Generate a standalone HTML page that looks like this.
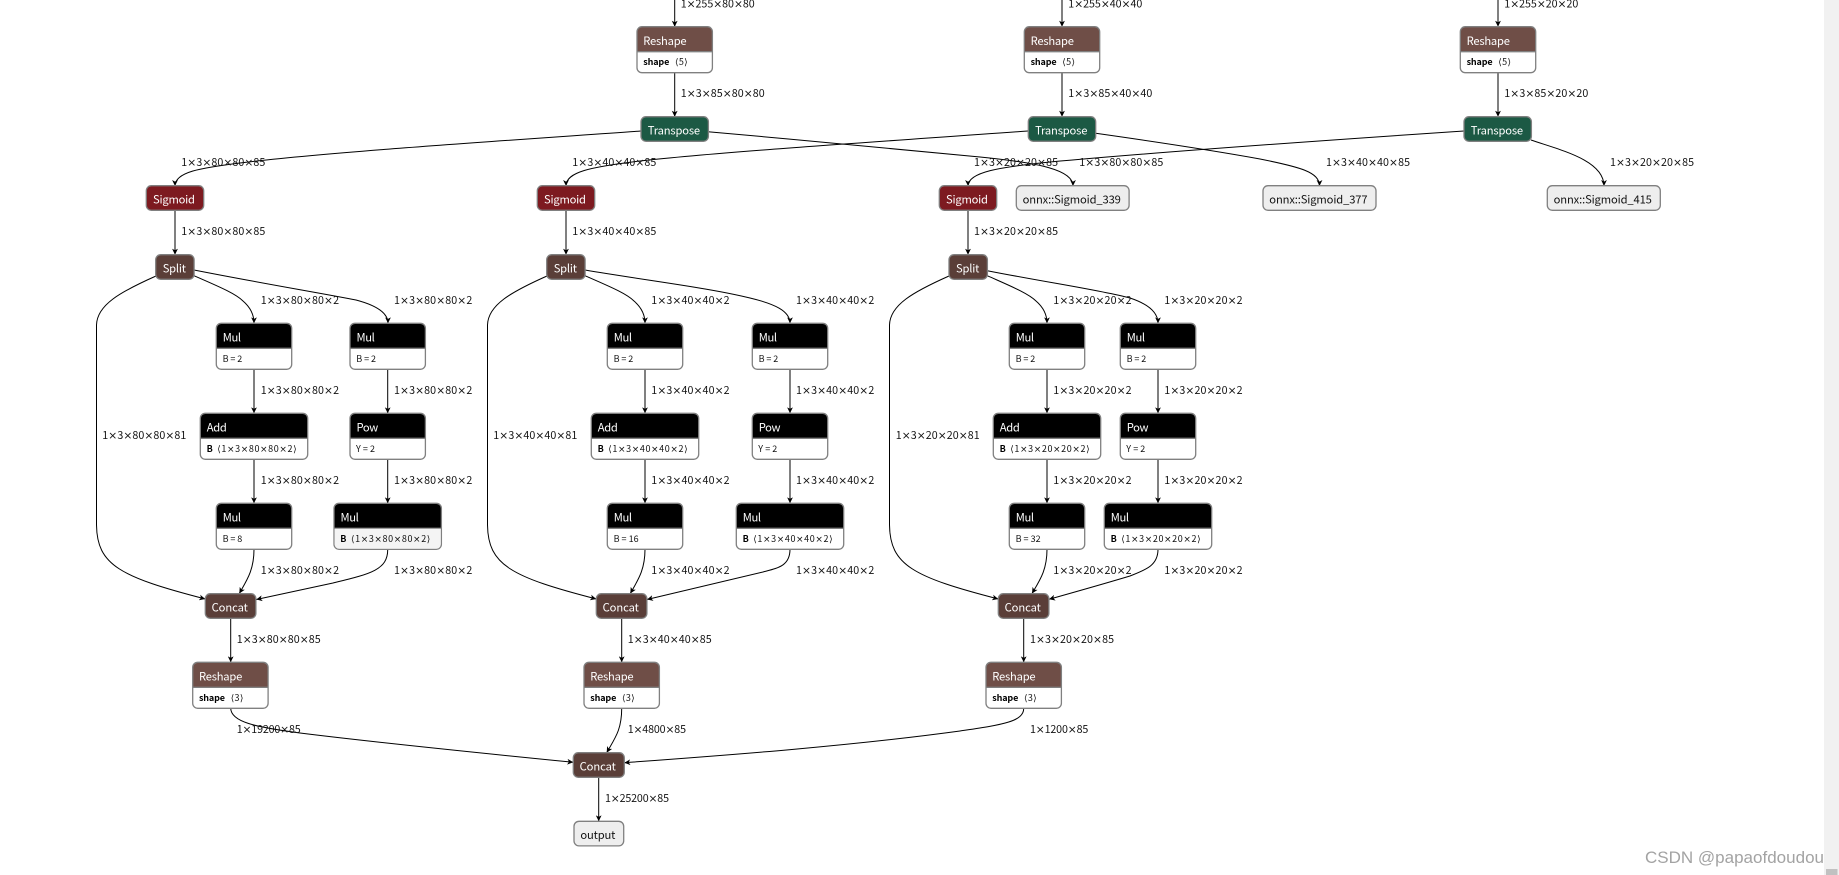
<!DOCTYPE html>
<html><head><meta charset="utf-8"><style>
html,body{margin:0;padding:0;background:#fff;overflow:hidden;width:1839px;height:875px}
svg{display:block;position:absolute;left:0;top:0}
text{font-family:"Noto Sans CJK SC","Liberation Sans",sans-serif;fill:#111}
tspan{font-family:"DejaVu Sans",sans-serif}
.l{font-size:10.7px}
.h{font-size:11.2px;fill:#fff;transform:translateY(.6px)}
.a{font-size:9px}
.b{font-size:9px;font-weight:700;fill:#000}
.n{font-size:11.2px}
.e{fill:none;stroke:#000;stroke-width:1;marker-end:url(#ar)}
.bx{stroke:#808080;stroke-width:1.3}
</style></head><body>
<svg width="1839" height="875" viewBox="0 0 1839 875" xmlns="http://www.w3.org/2000/svg">
<defs>
<marker id="ar" markerUnits="userSpaceOnUse" markerWidth="7" markerHeight="7" refX="6" refY="3.5" orient="auto"><path d="M0 .6L6 3.5L0 6.4L1.6 3.5z" fill="#000"/></marker>
<g id="nm"><rect width="75.4" height="46" rx="5" fill="#fff"/><path d="M0 25V5a5 5 0 0 1 5-5h65.4a5 5 0 0 1 5 5V25z" fill="#000"/><rect width="75.4" height="46" rx="5" fill="none" class="bx"/><path d="M0 25H75.4" class="bx"/></g>
<g id="nw"><rect width="107.4" height="46" rx="5" fill="#fff"/><path d="M0 25V5a5 5 0 0 1 5-5h97.4a5 5 0 0 1 5 5V25z" fill="#000"/><rect width="107.4" height="46" rx="5" fill="none" class="bx"/><path d="M0 25H107.4" class="bx"/></g>
<g id="nr"><rect width="75.4" height="46" rx="5" fill="#fff"/><path d="M0 25V5a5 5 0 0 1 5-5h65.4a5 5 0 0 1 5 5V25z" fill="#6f4e47"/><rect width="75.4" height="46" rx="5" fill="none" class="bx"/><path d="M0 25H75.4" class="bx"/></g>
</defs>

<!-- edges -->
<path class="e" d="M674.7 0V26.7"/><path class="e" d="M674.7 72.3V116.7"/>
<path class="e" d="M1062 0V26.7"/><path class="e" d="M1062 72.3V116.7"/>
<path class="e" d="M1498 0V26.7"/><path class="e" d="M1498 72.3V116.7"/>
<path class="e" d="M641 131C500 141 330 152 240 163C200 168 175 172 175 186"/>
<path class="e" d="M1028 131C860 143 720 152 640 161C590 167 566 172 566 186"/>
<path class="e" d="M1464 131C1300 142 1160 152 1050 162C1000 167 968 172 968 186"/>
<path class="e" d="M708 131.7C800 140 900 149 980 157C1040 163 1073 170 1073 186"/>
<path class="e" d="M1095.7 133.3C1150 141 1210 150 1260 159C1300 167 1319.5 172 1319.5 186"/>
<path class="e" d="M1531 140C1560 150 1604 160 1604 186"/>
<path class="e" d="M175 210.3V254.7"/><path class="e" d="M566 210.3V254.7"/><path class="e" d="M968 210.3V254.7"/>

<path class="e" d="M194 270C260 283 320 293 356 300C375 305 388 312 388 323.3"/>
<path class="e" d="M194 275.7C215 285 235 293 243 301C250 307 254 314 254 323.3"/>
<path class="e" d="M156 276C120 292 97 305 96.5 325L96.5 525C97 565 120 577 205.3 599"/>
<path class="e" d="M585 270C650 281 710 288 750 298C775 304 790 311 790 323.3"/>
<path class="e" d="M585 275.7C606 285 626 293 634 301C641 307 645 314 645 323.3"/>
<path class="e" d="M547 276C511 292 488 305 487.5 325L487.5 525C488 565 511 577 596.3 599"/>
<path class="e" d="M987.3 270.7C1050 283 1100 290 1130 298C1148 304 1158 312 1158 323.3"/>
<path class="e" d="M987.3 275.7C1008 285 1028 293 1036 301C1043 307 1047 314 1047 323.3"/>
<path class="e" d="M949 276C913 292 890 305 889.5 325L889.5 525C890 565 913 577 998.3 599"/>

<path class="e" d="M254 369.3V413.3"/><path class="e" d="M254 459.3V503.3"/>
<path class="e" d="M387.7 369.3V413.3"/><path class="e" d="M387.7 459.3V503.3"/>
<path class="e" d="M645 369.3V413.3"/><path class="e" d="M645 459.3V503.3"/>
<path class="e" d="M790 369.3V413.3"/><path class="e" d="M790 459.3V503.3"/>
<path class="e" d="M1047 369.3V413.3"/><path class="e" d="M1047 459.3V503.3"/>
<path class="e" d="M1158 369.3V413.3"/><path class="e" d="M1158 459.3V503.3"/>

<path class="e" d="M254 549.3C254 570 247 580 239.3 593.5"/>
<path class="e" d="M645 549.3C645 570 638 580 630.3 593.5"/>
<path class="e" d="M1047 549.3C1047 570 1040 580 1032 593.5"/>
<path class="e" d="M387.7 549.3C388 570 370 574 333 583L256.3 599.5"/>
<path class="e" d="M790 549.3C790 566 778 568 763 572L647 599.5"/>
<path class="e" d="M1158 549.3C1158 566 1145 570 1130 576C1100 585 1075 592 1049 599.3"/>

<path class="e" d="M230.7 618V662.3"/><path class="e" d="M621.7 618V662.3"/><path class="e" d="M1023.7 618V662.3"/>
<path class="e" d="M230.7 708.3C231 722 255 727 300 733C380 743 480 753 573.3 762.3"/>
<path class="e" d="M621.7 708.3C621.7 730 615 738 606.7 752.7"/>
<path class="e" d="M1023.7 708.3C1024 722 1000 725 960 731C850 746 730 755 624.3 762.7"/>
<path class="e" d="M598.7 777.3V821.3"/>

<!-- top nodes -->
<g transform="translate(637 26.7)"><use href="#nr"/><text class="h" x="6.3" y="17.5" textLength="43.3">Reshape</text><text class="b" x="6.3" y="38.5" textLength="26">shape</text><text class="a" x="38" y="38.5" textLength="12.7">⟨5⟩</text></g>
<g transform="translate(1024.3 26.7)"><use href="#nr"/><text class="h" x="6.3" y="17.5" textLength="43.3">Reshape</text><text class="b" x="6.3" y="38.5" textLength="26">shape</text><text class="a" x="38" y="38.5" textLength="12.7">⟨5⟩</text></g>
<g transform="translate(1460.3 26.7)"><use href="#nr"/><text class="h" x="6.3" y="17.5" textLength="43.3">Reshape</text><text class="b" x="6.3" y="38.5" textLength="26">shape</text><text class="a" x="38" y="38.5" textLength="12.7">⟨5⟩</text></g>

<g transform="translate(641 116.7)"><rect width="67.4" height="24.6" rx="5" fill="#1c5944" class="bx"/><text class="h" x="6.8" y="17.3" textLength="52.3">Transpose</text></g>
<g transform="translate(1028.3 116.7)"><rect width="67.4" height="24.6" rx="5" fill="#1c5944" class="bx"/><text class="h" x="6.8" y="17.3" textLength="52.3">Transpose</text></g>
<g transform="translate(1464 116.7)"><rect width="67.4" height="24.6" rx="5" fill="#1c5944" class="bx"/><text class="h" x="6.8" y="17.3" textLength="52.3">Transpose</text></g>

<g transform="translate(146.3 185.7)"><rect width="57.4" height="24.6" rx="5" fill="#7d1a20" class="bx"/><text class="h" x="6.7" y="17.3" textLength="42">Sigmoid</text></g>
<g transform="translate(537.3 185.7)"><rect width="57.4" height="24.6" rx="5" fill="#7d1a20" class="bx"/><text class="h" x="6.7" y="17.3" textLength="42">Sigmoid</text></g>
<g transform="translate(939.3 185.7)"><rect width="57.4" height="24.6" rx="5" fill="#7d1a20" class="bx"/><text class="h" x="6.7" y="17.3" textLength="42">Sigmoid</text></g>

<g transform="translate(1016.3 185.7)"><rect width="112.8" height="24.6" rx="5" fill="#eee" class="bx"/><text class="n" x="6.3" y="17.9" textLength="98.3">onnx::Sigmoid_339</text></g>
<g transform="translate(1263 185.7)"><rect width="113" height="24.6" rx="5" fill="#eee" class="bx"/><text class="n" x="6.3" y="17.9" textLength="98.3">onnx::Sigmoid_377</text></g>
<g transform="translate(1547.3 185.7)"><rect width="113" height="24.6" rx="5" fill="#eee" class="bx"/><text class="n" x="6.3" y="17.9" textLength="98.3">onnx::Sigmoid_415</text></g>

<g transform="translate(155.7 254.7)"><rect width="38.4" height="24.6" rx="5" fill="#5a3e38" class="bx"/><text class="h" x="7" y="17.3" textLength="23.3">Split</text></g>
<g transform="translate(546.7 254.7)"><rect width="38.4" height="24.6" rx="5" fill="#5a3e38" class="bx"/><text class="h" x="7" y="17.3" textLength="23.3">Split</text></g>
<g transform="translate(949 254.7)"><rect width="38.4" height="24.6" rx="5" fill="#5a3e38" class="bx"/><text class="h" x="7" y="17.3" textLength="23.3">Split</text></g>

<!-- column 1 nodes -->
<g transform="translate(216.3 323.3)"><use href="#nm"/><text class="h" x="6.5" y="17.5" textLength="18.3">Mul</text><text class="a" x="6.3" y="38.8" textLength="19.7">B = 2</text></g>
<g transform="translate(350 323.3)"><use href="#nm"/><text class="h" x="6.5" y="17.5" textLength="18.3">Mul</text><text class="a" x="6.3" y="38.8" textLength="19.7">B = 2</text></g>
<g transform="translate(200.3 413.3)"><use href="#nw"/><text class="h" x="6.5" y="17.5" textLength="20">Add</text><text class="b" x="6.3" y="38.8" textLength="6">B</text><text class="a" x="17" y="38.8" textLength="79.3">⟨1<tspan>×</tspan>3<tspan>×</tspan>80<tspan>×</tspan>80<tspan>×</tspan>2⟩</text></g>
<g transform="translate(350 413.3)"><use href="#nm"/><text class="h" x="6.5" y="17.5" textLength="21.7">Pow</text><text class="a" x="6" y="38.8" textLength="19">Y = 2</text></g>
<g transform="translate(216.3 503.3)"><use href="#nm"/><text class="h" x="6.5" y="17.5" textLength="18.3">Mul</text><text class="a" x="6.3" y="38.8" textLength="19.7">B = 8</text></g>
<g transform="translate(334 503.3)"><use href="#nw"/><path d="M.7 25.5H106.7V41a4.5 4.5 0 0 1-4.5 4.5H5a4.5 4.5 0 0 1-4.3-4.5z" fill="#f4f4f4"/><text class="h" x="6.5" y="17.5" textLength="18.3">Mul</text><text class="b" x="6.3" y="38.8" textLength="6">B</text><text class="a" x="17" y="38.8" textLength="79.3">⟨1<tspan>×</tspan>3<tspan>×</tspan>80<tspan>×</tspan>80<tspan>×</tspan>2⟩</text></g>
<g transform="translate(205.3 593.7)"><rect width="50.6" height="24.6" rx="5" fill="#5a3e38" class="bx"/><text class="h" x="6.3" y="17.3" textLength="36.3">Concat</text></g>
<g transform="translate(192.7 662.3)"><use href="#nr"/><text class="h" x="6.3" y="17.5" textLength="43.3">Reshape</text><text class="b" x="6.3" y="38.5" textLength="26">shape</text><text class="a" x="38" y="38.5" textLength="12.7">⟨3⟩</text></g>

<!-- column 2 nodes -->
<g transform="translate(607.3 323.3)"><use href="#nm"/><text class="h" x="6.5" y="17.5" textLength="18.3">Mul</text><text class="a" x="6.3" y="38.8" textLength="19.7">B = 2</text></g>
<g transform="translate(752.3 323.3)"><use href="#nm"/><text class="h" x="6.5" y="17.5" textLength="18.3">Mul</text><text class="a" x="6.3" y="38.8" textLength="19.7">B = 2</text></g>
<g transform="translate(591.3 413.3)"><use href="#nw"/><text class="h" x="6.5" y="17.5" textLength="20">Add</text><text class="b" x="6.3" y="38.8" textLength="6">B</text><text class="a" x="17" y="38.8" textLength="79.3">⟨1<tspan>×</tspan>3<tspan>×</tspan>40<tspan>×</tspan>40<tspan>×</tspan>2⟩</text></g>
<g transform="translate(752.3 413.3)"><use href="#nm"/><text class="h" x="6.5" y="17.5" textLength="21.7">Pow</text><text class="a" x="6" y="38.8" textLength="19">Y = 2</text></g>
<g transform="translate(607.3 503.3)"><use href="#nm"/><text class="h" x="6.5" y="17.5" textLength="18.3">Mul</text><text class="a" x="6.3" y="38.8" textLength="25">B = 16</text></g>
<g transform="translate(736.3 503.3)"><use href="#nw"/><text class="h" x="6.5" y="17.5" textLength="18.3">Mul</text><text class="b" x="6.3" y="38.8" textLength="6">B</text><text class="a" x="17" y="38.8" textLength="79.3">⟨1<tspan>×</tspan>3<tspan>×</tspan>40<tspan>×</tspan>40<tspan>×</tspan>2⟩</text></g>
<g transform="translate(596.3 593.7)"><rect width="50.6" height="24.6" rx="5" fill="#5a3e38" class="bx"/><text class="h" x="6.3" y="17.3" textLength="36.3">Concat</text></g>
<g transform="translate(584 662.3)"><use href="#nr"/><text class="h" x="6.3" y="17.5" textLength="43.3">Reshape</text><text class="b" x="6.3" y="38.5" textLength="26">shape</text><text class="a" x="38" y="38.5" textLength="12.7">⟨3⟩</text></g>

<!-- column 3 nodes -->
<g transform="translate(1009.3 323.3)"><use href="#nm"/><text class="h" x="6.5" y="17.5" textLength="18.3">Mul</text><text class="a" x="6.3" y="38.8" textLength="19.7">B = 2</text></g>
<g transform="translate(1120.3 323.3)"><use href="#nm"/><text class="h" x="6.5" y="17.5" textLength="18.3">Mul</text><text class="a" x="6.3" y="38.8" textLength="19.7">B = 2</text></g>
<g transform="translate(993.3 413.3)"><use href="#nw"/><text class="h" x="6.5" y="17.5" textLength="20">Add</text><text class="b" x="6.3" y="38.8" textLength="6">B</text><text class="a" x="17" y="38.8" textLength="79.3">⟨1<tspan>×</tspan>3<tspan>×</tspan>20<tspan>×</tspan>20<tspan>×</tspan>2⟩</text></g>
<g transform="translate(1120.3 413.3)"><use href="#nm"/><text class="h" x="6.5" y="17.5" textLength="21.7">Pow</text><text class="a" x="6" y="38.8" textLength="19">Y = 2</text></g>
<g transform="translate(1009.3 503.3)"><use href="#nm"/><text class="h" x="6.5" y="17.5" textLength="18.3">Mul</text><text class="a" x="6.3" y="38.8" textLength="25">B = 32</text></g>
<g transform="translate(1104.3 503.3)"><use href="#nw"/><text class="h" x="6.5" y="17.5" textLength="18.3">Mul</text><text class="b" x="6.3" y="38.8" textLength="6">B</text><text class="a" x="17" y="38.8" textLength="79.3">⟨1<tspan>×</tspan>3<tspan>×</tspan>20<tspan>×</tspan>20<tspan>×</tspan>2⟩</text></g>
<g transform="translate(998.3 593.7)"><rect width="50.6" height="24.6" rx="5" fill="#5a3e38" class="bx"/><text class="h" x="6.3" y="17.3" textLength="36.3">Concat</text></g>
<g transform="translate(986 662.3)"><use href="#nr"/><text class="h" x="6.3" y="17.5" textLength="43.3">Reshape</text><text class="b" x="6.3" y="38.5" textLength="26">shape</text><text class="a" x="38" y="38.5" textLength="12.7">⟨3⟩</text></g>

<!-- bottom nodes -->
<g transform="translate(573.3 752.7)"><rect width="51" height="24.6" rx="5" fill="#5a3e38" class="bx"/><text class="h" x="6.3" y="17.3" textLength="36.3">Concat</text></g>
<g transform="translate(574 821.3)"><rect width="49.7" height="24.6" rx="5" fill="#eee" class="bx"/><text class="n" x="6.4" y="17.9" textLength="35">output</text></g>

<!-- labels -->
<text class="l" x="680.7" y="7.3" textLength="74">1<tspan>×</tspan>255<tspan>×</tspan>80<tspan>×</tspan>80</text>
<text class="l" x="680.7" y="97" textLength="84">1<tspan>×</tspan>3<tspan>×</tspan>85<tspan>×</tspan>80<tspan>×</tspan>80</text>
<text class="l" x="1068.3" y="7.3" textLength="74">1<tspan>×</tspan>255<tspan>×</tspan>40<tspan>×</tspan>40</text>
<text class="l" x="1068.3" y="97" textLength="84">1<tspan>×</tspan>3<tspan>×</tspan>85<tspan>×</tspan>40<tspan>×</tspan>40</text>
<text class="l" x="1504.3" y="7.3" textLength="74">1<tspan>×</tspan>255<tspan>×</tspan>20<tspan>×</tspan>20</text>
<text class="l" x="1504.3" y="97" textLength="84">1<tspan>×</tspan>3<tspan>×</tspan>85<tspan>×</tspan>20<tspan>×</tspan>20</text>

<text class="l" x="181.3" y="166" textLength="84">1<tspan>×</tspan>3<tspan>×</tspan>80<tspan>×</tspan>80<tspan>×</tspan>85</text>
<text class="l" x="572.3" y="166" textLength="84">1<tspan>×</tspan>3<tspan>×</tspan>40<tspan>×</tspan>40<tspan>×</tspan>85</text>
<text class="l" x="974" y="166" textLength="84">1<tspan>×</tspan>3<tspan>×</tspan>20<tspan>×</tspan>20<tspan>×</tspan>85</text>
<text class="l" x="1079.3" y="166" textLength="84">1<tspan>×</tspan>3<tspan>×</tspan>80<tspan>×</tspan>80<tspan>×</tspan>85</text>
<text class="l" x="1326" y="166" textLength="84">1<tspan>×</tspan>3<tspan>×</tspan>40<tspan>×</tspan>40<tspan>×</tspan>85</text>
<text class="l" x="1610" y="166" textLength="84">1<tspan>×</tspan>3<tspan>×</tspan>20<tspan>×</tspan>20<tspan>×</tspan>85</text>

<text class="l" x="181.3" y="235" textLength="84">1<tspan>×</tspan>3<tspan>×</tspan>80<tspan>×</tspan>80<tspan>×</tspan>85</text>
<text class="l" x="572.3" y="235" textLength="84">1<tspan>×</tspan>3<tspan>×</tspan>40<tspan>×</tspan>40<tspan>×</tspan>85</text>
<text class="l" x="974" y="235" textLength="84">1<tspan>×</tspan>3<tspan>×</tspan>20<tspan>×</tspan>20<tspan>×</tspan>85</text>

<text class="l" x="260.7" y="304" textLength="78.3">1<tspan>×</tspan>3<tspan>×</tspan>80<tspan>×</tspan>80<tspan>×</tspan>2</text>
<text class="l" x="394" y="304" textLength="78.3">1<tspan>×</tspan>3<tspan>×</tspan>80<tspan>×</tspan>80<tspan>×</tspan>2</text>
<text class="l" x="260.7" y="394" textLength="78.3">1<tspan>×</tspan>3<tspan>×</tspan>80<tspan>×</tspan>80<tspan>×</tspan>2</text>
<text class="l" x="394" y="394" textLength="78.3">1<tspan>×</tspan>3<tspan>×</tspan>80<tspan>×</tspan>80<tspan>×</tspan>2</text>
<text class="l" x="260.7" y="484" textLength="78.3">1<tspan>×</tspan>3<tspan>×</tspan>80<tspan>×</tspan>80<tspan>×</tspan>2</text>
<text class="l" x="394" y="484" textLength="78.3">1<tspan>×</tspan>3<tspan>×</tspan>80<tspan>×</tspan>80<tspan>×</tspan>2</text>
<text class="l" x="260.7" y="574" textLength="78.3">1<tspan>×</tspan>3<tspan>×</tspan>80<tspan>×</tspan>80<tspan>×</tspan>2</text>
<text class="l" x="394" y="574" textLength="78.3">1<tspan>×</tspan>3<tspan>×</tspan>80<tspan>×</tspan>80<tspan>×</tspan>2</text>

<text class="l" x="651.3" y="304" textLength="78.3">1<tspan>×</tspan>3<tspan>×</tspan>40<tspan>×</tspan>40<tspan>×</tspan>2</text>
<text class="l" x="796" y="304" textLength="78.3">1<tspan>×</tspan>3<tspan>×</tspan>40<tspan>×</tspan>40<tspan>×</tspan>2</text>
<text class="l" x="651.3" y="394" textLength="78.3">1<tspan>×</tspan>3<tspan>×</tspan>40<tspan>×</tspan>40<tspan>×</tspan>2</text>
<text class="l" x="796" y="394" textLength="78.3">1<tspan>×</tspan>3<tspan>×</tspan>40<tspan>×</tspan>40<tspan>×</tspan>2</text>
<text class="l" x="651.3" y="484" textLength="78.3">1<tspan>×</tspan>3<tspan>×</tspan>40<tspan>×</tspan>40<tspan>×</tspan>2</text>
<text class="l" x="796" y="484" textLength="78.3">1<tspan>×</tspan>3<tspan>×</tspan>40<tspan>×</tspan>40<tspan>×</tspan>2</text>
<text class="l" x="651.3" y="574" textLength="78.3">1<tspan>×</tspan>3<tspan>×</tspan>40<tspan>×</tspan>40<tspan>×</tspan>2</text>
<text class="l" x="796" y="574" textLength="78.3">1<tspan>×</tspan>3<tspan>×</tspan>40<tspan>×</tspan>40<tspan>×</tspan>2</text>

<text class="l" x="1053.3" y="304" textLength="78.3">1<tspan>×</tspan>3<tspan>×</tspan>20<tspan>×</tspan>20<tspan>×</tspan>2</text>
<text class="l" x="1164.3" y="304" textLength="78.3">1<tspan>×</tspan>3<tspan>×</tspan>20<tspan>×</tspan>20<tspan>×</tspan>2</text>
<text class="l" x="1053.3" y="394" textLength="78.3">1<tspan>×</tspan>3<tspan>×</tspan>20<tspan>×</tspan>20<tspan>×</tspan>2</text>
<text class="l" x="1164.3" y="394" textLength="78.3">1<tspan>×</tspan>3<tspan>×</tspan>20<tspan>×</tspan>20<tspan>×</tspan>2</text>
<text class="l" x="1053.3" y="484" textLength="78.3">1<tspan>×</tspan>3<tspan>×</tspan>20<tspan>×</tspan>20<tspan>×</tspan>2</text>
<text class="l" x="1164.3" y="484" textLength="78.3">1<tspan>×</tspan>3<tspan>×</tspan>20<tspan>×</tspan>20<tspan>×</tspan>2</text>
<text class="l" x="1053.3" y="574" textLength="78.3">1<tspan>×</tspan>3<tspan>×</tspan>20<tspan>×</tspan>20<tspan>×</tspan>2</text>
<text class="l" x="1164.3" y="574" textLength="78.3">1<tspan>×</tspan>3<tspan>×</tspan>20<tspan>×</tspan>20<tspan>×</tspan>2</text>

<text class="l" x="102.3" y="439" textLength="84">1<tspan>×</tspan>3<tspan>×</tspan>80<tspan>×</tspan>80<tspan>×</tspan>81</text>
<text class="l" x="493.3" y="439" textLength="84">1<tspan>×</tspan>3<tspan>×</tspan>40<tspan>×</tspan>40<tspan>×</tspan>81</text>
<text class="l" x="895.7" y="439" textLength="84">1<tspan>×</tspan>3<tspan>×</tspan>20<tspan>×</tspan>20<tspan>×</tspan>81</text>

<text class="l" x="236.7" y="643" textLength="84">1<tspan>×</tspan>3<tspan>×</tspan>80<tspan>×</tspan>80<tspan>×</tspan>85</text>
<text class="l" x="627.7" y="643" textLength="84">1<tspan>×</tspan>3<tspan>×</tspan>40<tspan>×</tspan>40<tspan>×</tspan>85</text>
<text class="l" x="1030" y="643" textLength="84">1<tspan>×</tspan>3<tspan>×</tspan>20<tspan>×</tspan>20<tspan>×</tspan>85</text>

<text class="l" x="236.7" y="733" textLength="64">1<tspan>×</tspan>19200<tspan>×</tspan>85</text>
<text class="l" x="627.7" y="733" textLength="58.3">1<tspan>×</tspan>4800<tspan>×</tspan>85</text>
<text class="l" x="1030" y="733" textLength="58.3">1<tspan>×</tspan>1200<tspan>×</tspan>85</text>
<text class="l" x="605" y="802" textLength="64">1<tspan>×</tspan>25200<tspan>×</tspan>85</text>

<text x="1645" y="863" textLength="179" style="font-family:'Liberation Sans',sans-serif;font-size:17px;fill:#a3a3a3">CSDN @papaofdoudou</text>
<rect x="1824" y="0" width="15" height="875" fill="#f1f1f1"/>
<rect x="1826" y="869" width="11.5" height="6" fill="#c1c1c1"/>
</svg>
</body></html>
